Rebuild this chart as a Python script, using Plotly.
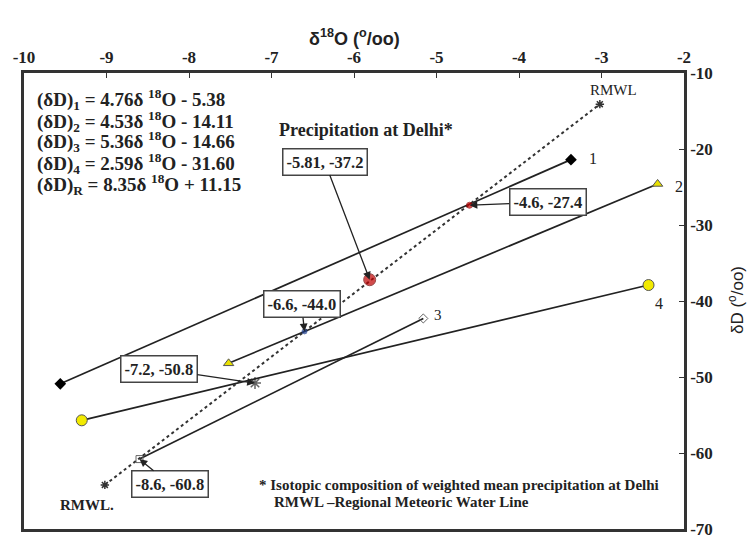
import plotly.graph_objects as go

# Regression line end points (δ18O, δD)
l1_x = [-9.56, -3.37]
l1_y = [-50.9, -21.4]
l2_x = [-7.52, -2.32]
l2_y = [-48.2, -24.6]
l3_x = [-8.6, -5.16]
l3_y = [-60.8, -42.3]
l4_x = [-9.30, -2.43]
l4_y = [-55.7, -37.9]
rmwl_x = [-9.02, -3.02]
rmwl_y = [-64.2, -14.1]

# Intersection points with their labels
pts_x = [-5.81, -4.6, -6.6, -7.2, -8.6]
pts_y = [-37.2, -27.4, -44.0, -50.8, -60.8]
pts_lbl = ["-5.81, -37.2", "-4.6, -27.4", "-6.6, -44.0", "-7.2, -50.8", "-8.6, -60.8"]

# Regression equations
eq_names = ["1", "2", "3", "4", "R"]
eq_slopes = ["4.76", "4.53", "5.36", "2.59", "8.35"]
eq_consts = ["- 5.38", "- 14.11", "- 14.66", "- 31.60", "+ 11.15"]

x_ticks = [-10, -9, -8, -7, -6, -5, -4, -3, -2]
y_ticks = [-10, -20, -30, -40, -50, -60, -70]

SERIF = "Liberation Serif"
SANS = "Liberation Sans"
INK = "#222222"

W, H = 752, 550
L, R, T, B = 24, 68, 73, 11
pw, ph = W - L - R, H - T - B


def px_to_paper(px, py):
    return (px - L) / pw, 1 - (py - T) / ph


fig = go.Figure()

line_style = dict(color=INK, width=1.7)

fig.add_trace(go.Scatter(x=l1_x, y=l1_y, mode="lines+markers", line=line_style,
                         marker=dict(symbol="diamond", size=9, color="black")))
fig.add_trace(go.Scatter(x=l2_x, y=l2_y, mode="lines+markers", line=line_style,
                         marker=dict(symbol="triangle-up", size=9, color="#e8e000",
                                     line=dict(color="#555", width=1))))
fig.add_trace(go.Scatter(x=l3_x, y=l3_y, mode="lines+markers", line=line_style,
                         marker=dict(symbol=["square-open", "diamond-open"], size=7,
                                     color="#666")))
fig.add_trace(go.Scatter(x=l4_x, y=l4_y, mode="lines+markers", line=line_style,
                         marker=dict(symbol="circle", size=11, color="#f2ea00",
                                     line=dict(color="#555", width=1))))
fig.add_trace(go.Scatter(x=rmwl_x, y=rmwl_y, mode="lines+markers",
                         line=dict(color="#333", width=2, dash="dot"),
                         marker=dict(symbol="asterisk-open", size=7,
                                     line=dict(color="#cc55cc", width=1.5))))

# Intersection markers
pt_symbols = ["circle", "circle", "circle", "asterisk-open", "circle"]
pt_sizes = [12, 6, 5, 10, 1]
pt_colors = ["#c00000", "#d00000", "#1f3f8f", "#222", "rgba(0,0,0,0)"]
fig.add_trace(go.Scatter(x=pts_x, y=pts_y, mode="markers",
                         marker=dict(symbol=pt_symbols, size=pt_sizes, color=pt_colors,
                                     line=dict(color=["#700000", "#900000", "#1f3f8f", "#222", "rgba(0,0,0,0)"],
                                               width=[1, 1, 1, 1.5, 0]))))

# Boxed labels with arrows (offsets in pixels)
offsets = [(-45, -118), (78, -3), (-3, -27), (-96, -14), (30, 25)]
for x, y, lbl, (ax, ay) in zip(pts_x, pts_y, pts_lbl, offsets):
    fig.add_annotation(x=x, y=y, text=f"<b>{lbl}</b>", showarrow=True, ax=ax, ay=ay,
                       arrowhead=2, arrowsize=1.2, arrowwidth=1.3, arrowcolor=INK,
                       font=dict(family=SERIF, size=16.5, color=INK),
                       bordercolor="#444", borderwidth=1.5, borderpad=3,
                       bgcolor="white")

# Equation block
eq_y = [-13.48, -16.32, -19.03, -21.87, -24.71]
for name, s, c, y in zip(eq_names, eq_slopes, eq_consts, eq_y):
    fig.add_annotation(x=-9.87, y=y, xanchor="left", yanchor="middle", showarrow=False,
                       text=f"<b>(δD)<sub>{name}</sub> = {s}δ <sup>18</sup>O {c}</b>",
                       font=dict(family=SERIF, size=19, color=INK))

# Other text
texts = [
    (-5.85, -17.5, "<b>Precipitation at Delhi*</b>", 18),
    (-2.85, -12.3, "RMWL", 15),
    (-9.24, -66.9, "<b>RMWL.</b>", 15),
    (-3.1, -21.2, "1", 16),
    (-2.06, -24.9, "2", 16),
    (-4.98, -41.9, "3", 15),
    (-2.3, -40.3, "4", 16),
]
for x, y, t, s in texts:
    fig.add_annotation(x=x, y=y, text=t, showarrow=False, xanchor="center",
                       yanchor="middle", font=dict(family=SERIF, size=s, color=INK))

fig.add_annotation(x=-7.18, y=-64.2, xanchor="left", yanchor="middle", showarrow=False,
                   text="<b>* Isotopic composition of weighted mean precipitation at Delhi</b>",
                   font=dict(family=SERIF, size=15, color=INK))
fig.add_annotation(x=-7.0, y=-66.4, xanchor="left", yanchor="middle", showarrow=False,
                   text="<b>RMWL –Regional Meteoric Water Line</b>",
                   font=dict(family=SERIF, size=15, color=INK))

# Axis titles
tx, ty = px_to_paper(355, 37)
fig.add_annotation(x=tx, y=ty, xref="paper", yref="paper", showarrow=False,
                   xanchor="center", yanchor="middle",
                   text="<b>δ<sup>18</sup>O (<sup>o</sup>/oo)</b>",
                   font=dict(family=SANS, size=18, color=INK))
rx, ry = px_to_paper(736, 305)
fig.add_annotation(x=rx, y=ry, xref="paper", yref="paper", showarrow=False,
                   xanchor="center", yanchor="middle", textangle=-90,
                   text="δD (<sup>o</sup>/oo)",
                   font=dict(family=SANS, size=17, color=INK))

axis_common = dict(showgrid=False, zeroline=False, showline=True, mirror=True,
                   linecolor="#333", linewidth=2.5, ticks="inside", ticklen=5,
                   tickcolor="#333", tickwidth=1,
                   tickfont=dict(family=SERIF, size=17, color=INK))

fig.update_layout(
    width=W, height=H,
    margin=dict(l=L, r=R, t=T, b=B),
    plot_bgcolor="white", paper_bgcolor="white",
    showlegend=False,
    xaxis=dict(range=[-10, -2], side="top", tickvals=x_ticks,
               ticktext=[f"<b>{v}</b>" for v in x_ticks], **axis_common),
    yaxis=dict(range=[-70, -10], side="right", tickvals=y_ticks,
               ticktext=[f"<b>{v}</b>" for v in y_ticks], **axis_common),
)

fig.write_html("out.html")
